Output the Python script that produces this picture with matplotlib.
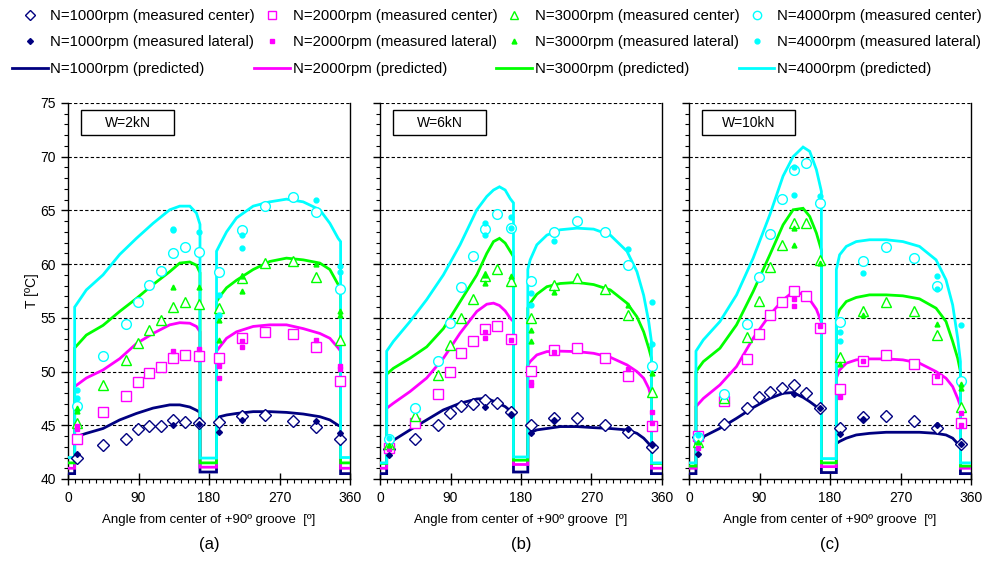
import numpy as np
import matplotlib
matplotlib.use("Agg")
import matplotlib.pyplot as plt
from matplotlib.lines import Line2D
from matplotlib.patches import Rectangle
from matplotlib.ticker import MultipleLocator

plt.rcParams['font.family'] = ['Liberation Sans', 'DejaVu Sans']

nan = np.nan
speeds = ["N=1000rpm", "N=2000rpm", "N=3000rpm", "N=4000rpm"]
colors = ["#000080", "#FF00FF", "#00FF00", "#00FFFF"]
center_markers = ["D", "s", "^", "o"]
lateral_markers = ["D", "s", "^", "o"]
panel_titles = ["W=2kN", "W=6kN", "W=10kN"]
panel_letters = ["(a)", "(b)", "(c)"]

# measurement angles (deg)
meas_angles = [12, 44.5, 74.5, 89, 104, 119, 134.5, 149, 167.5, 192.5, 222, 252, 287, 317, 347]
lat_angles = [12, 134.5, 167.5, 192.5, 222, 317, 347]

# ---------------- panel (a) W=2kN ----------------
center_a = [
    [42.0, 43.17, 43.73, 44.63, 44.94, 44.94, 45.5, 45.28, 45.25, 45.3, 45.9, 45.96, 45.4, 44.84, 43.73],
    [43.73, 46.2, 47.7, 49.0, 49.9, 50.4, 51.25, 51.55, 51.45, 51.3, 53.1, 53.7, 53.5, 52.27, 49.16],
    [45.25, 48.76, 51.1, 52.7, 53.9, 54.8, 56.05, 56.5, 56.3, 55.9, 58.7, 60.1, 60.25, 58.76, 52.9],
    [46.8, 51.46, 54.4, 56.46, 58.1, 59.4, 61.0, 61.6, 61.1, 59.3, 63.2, 65.4, 66.25, 64.85, 57.7],
]
lat1_a = [
    [42.3, 45.0, 45.1, 44.4, 45.5, 45.4, 44.25],
    [44.7, 51.9, 52.1, 50.55, 52.8, 52.95, 50.5],
    [46.3, 57.9, 57.9, 54.8, 58.85, 60.0, 55.6],
    [48.3, 63.2, 63.0, 57.1, 62.7, 66.0, 59.8],
]
lat2_a = [
    [nan, nan, nan, nan, nan, nan, nan],
    [44.9, nan, nan, 49.4, 52.3, nan, 50.2],
    [46.6, nan, nan, 52.95, 57.5, nan, 55.3],
    [47.5, 63.3, nan, 55.3, 61.5, nan, 59.3],
]
predL_ang_a = [8.5, 23.4, 44.7, 66.0, 87.3, 108.6, 129.9, 142.7, 155.5, 164.0, 168.5]
predR_ang_a = [189.6, 193.8, 202.4, 215.1, 236.4, 257.6, 278.9, 300.2, 321.5, 334.3, 344.9, 348.0]
predL_a = [
    [43.9, 44.25, 44.7, 45.5, 46.1, 46.6, 46.9, 46.9, 46.7, 46.4, 46.2],
    [48.6, 49.4, 50.15, 51.2, 52.6, 53.55, 54.35, 54.55, 54.5, 54.2, 53.7],
    [52.2, 53.4, 54.3, 55.6, 56.8, 58.1, 59.3, 60.1, 60.2, 59.9, 59.2],
    [56.0, 57.6, 59.0, 60.9, 62.4, 63.8, 65.06, 65.4, 65.4, 64.75, 63.7],
]
predR_a = [
    [45.65, 45.8, 45.96, 46.1, 46.27, 46.27, 46.2, 46.05, 45.8, 45.5, 45.0, 44.9],
    [51.9, 52.3, 53.1, 53.7, 54.2, 54.35, 54.35, 54.0, 53.55, 53.1, 52.2, 51.9],
    [56.5, 57.0, 57.8, 58.5, 59.5, 60.25, 60.56, 60.4, 60.1, 59.5, 58.1, 57.8],
    [61.2, 61.8, 63.0, 64.3, 65.4, 65.8, 66.05, 65.8, 65.06, 63.8, 62.4, 62.1],
]
low_edge_a = [40.5, 41.0, 41.5, 42.0]
low_mid_a = [40.65, 41.1, 41.5, 41.95]

# ---------------- panel (b) W=6kN ----------------
center_b = [
    [42.8, 43.73, 45.03, 46.1, 46.8, 46.96, 47.36, 47.05, 46.27, 45.03, 45.7, 45.65, 45.03, 44.4, 42.95],
    [42.9, 45.2, 47.9, 50.0, 51.7, 52.86, 53.94, 54.25, 53.0, 50.06, 52.0, 52.24, 51.3, 49.6, 44.94],
    [43.3, 45.87, 49.7, 52.5, 54.97, 56.77, 58.85, 59.57, 58.4, 55.0, 58.1, 58.75, 57.67, 55.28, 48.07],
    [43.7, 46.6, 51.0, 54.5, 57.86, 60.78, 63.26, 64.7, 63.35, 58.45, 63.0, 64.0, 62.95, 59.9, 50.56],
]
lat1_b = [
    [42.2, 46.7, 46.05, 44.25, 45.5, 44.7, 43.2],
    [42.8, 53.66, 52.95, 49.07, 51.8, 50.25, 46.27],
    [43.2, 58.2, 58.85, 53.9, 57.45, 56.2, 49.85],
    [43.85, 63.8, 64.4, 57.3, 62.2, 61.4, 56.5],
]
lat2_b = [
    [nan, nan, nan, nan, nan, nan, nan],
    [nan, 53.1, nan, 48.76, nan, nan, 45.2],
    [nan, 59.0, nan, 52.8, nan, nan, nan],
    [nan, 62.7, 63.4, 56.2, nan, nan, 52.6],
]
predL_ang_b = [8.5, 17.0, 38.3, 59.6, 80.9, 102.2, 123.6, 136.3, 144.9, 152.5, 159.8, 166.2, 170.4]
predR_ang_b = [188.7, 191.7, 200.2, 213.0, 230.1, 251.4, 272.7, 294.0, 315.3, 328.0, 336.6, 343.0, 346.5]
predL_b = [
    [43.3, 43.6, 44.57, 45.5, 46.43, 47.05, 47.45, 47.5, 47.25, 47.0, 46.74, 46.35, 46.1],
    [46.58, 47.05, 48.14, 49.4, 51.24, 53.57, 55.6, 56.27, 56.37, 56.15, 55.65, 54.97, 54.66],
    [49.75, 50.3, 51.24, 52.3, 54.0, 56.5, 59.0, 61.0, 62.1, 62.4, 61.96, 61.2, 60.7],
    [51.9, 52.8, 54.66, 56.7, 59.0, 61.8, 65.06, 66.3, 66.9, 67.2, 66.9, 66.1, 65.7],
]
predR_b = [
    [44.16, 44.3, 44.57, 44.7, 44.88, 44.88, 44.78, 44.7, 44.57, 44.25, 43.8, 43.3, 43.0],
    [50.6, 50.93, 51.55, 51.86, 51.9, 51.86, 51.7, 51.33, 50.62, 50.0, 49.38, 48.45, 47.5],
    [55.9, 56.37, 57.2, 57.9, 58.2, 58.3, 58.1, 57.6, 56.37, 55.1, 53.7, 52.2, 51.24],
    [59.5, 60.4, 61.8, 62.7, 63.2, 63.35, 63.26, 62.7, 61.2, 59.3, 57.1, 54.66, 52.8],
]
low_edge_b = [40.5, 41.0, 41.45, 41.5]
low_mid_b = [40.65, 41.35, 41.75, 42.05]

# ---------------- panel (c) W=10kN ----------------
center_c = [
    [43.94, 45.1, 46.58, 47.6, 48.07, 48.45, 48.76, 48.04, 46.58, 44.78, 45.8, 45.87, 45.4, 44.78, 43.3],
    [44.04, 47.27, 51.2, 53.48, 55.28, 56.46, 57.5, 57.05, 54.04, 48.39, 51.0, 51.55, 50.7, 49.28, 45.19],
    [43.48, 47.58, 53.2, 56.6, 59.7, 61.8, 63.8, 63.8, 60.34, 51.4, 55.65, 56.5, 55.6, 53.4, 46.74],
    [43.94, 47.9, 54.4, 58.76, 62.83, 66.05, 68.8, 69.4, 65.7, 54.6, 60.25, 61.55, 60.56, 57.98, 49.13],
]
lat1_c = [
    [42.3, 47.9, 46.58, 44.16, 45.6, 45.03, 43.3],
    [42.9, 56.77, 54.25, 47.67, 51.0, 49.6, 46.1],
    [43.48, 63.4, 60.1, 50.7, 55.28, 54.4, 48.8],
    [44.1, 69.0, 66.3, 53.66, 59.16, 58.9, 54.3],
]
lat2_c = [
    [nan, nan, nan, nan, nan, nan, nan],
    [nan, 56.15, nan, nan, nan, nan, 45.0],
    [nan, 61.74, nan, nan, nan, nan, 48.45],
    [nan, 66.4, nan, 52.86, nan, 57.67, nan],
]
predL_ang_c = [8.9, 18.3, 39.5, 60.7, 81.9, 103.2, 120.1, 132.9, 145.6, 154.1, 162.6, 169.0]
predR_ang_c = [188.1, 192.3, 200.8, 213.5, 230.5, 251.7, 273.0, 294.2, 315.4, 328.1, 336.6, 343.0, 346.5]
predL_c = [
    [43.48, 43.94, 44.72, 45.65, 46.65, 47.5, 47.98, 48.05, 47.6, 47.2, 46.74, 46.4],
    [46.74, 47.5, 48.76, 50.47, 53.1, 55.28, 56.68, 57.42, 57.2, 56.7, 55.8, 54.6],
    [50.0, 50.93, 52.17, 54.35, 57.45, 60.87, 63.66, 65.06, 65.2, 64.44, 62.9, 61.3],
    [51.9, 52.95, 54.66, 57.14, 60.56, 64.6, 68.2, 70.0, 70.9, 70.5, 68.8, 66.77],
]
predR_c = [
    [43.3, 43.5, 43.8, 44.1, 44.25, 44.35, 44.35, 44.35, 44.25, 44.1, 43.8, 43.3, 43.0],
    [49.38, 50.15, 50.78, 51.09, 51.18, 51.18, 51.09, 50.78, 50.0, 49.38, 48.6, 47.5, 46.8],
    [54.97, 55.75, 56.52, 56.9, 57.14, 57.14, 57.05, 56.77, 55.9, 54.66, 52.8, 51.24, 50.0],
    [59.5, 60.87, 61.65, 62.1, 62.27, 62.27, 62.1, 61.65, 60.4, 58.54, 56.2, 53.1, 50.93],
]
low_edge_c = [40.5, 41.0, 41.2, 41.5]
low_mid_c = [40.6, 41.15, 41.5, 41.9]

panels = [
    (center_a, lat1_a, lat2_a, predL_ang_a, predL_a, predR_ang_a, predR_a, low_edge_a, low_mid_a),
    (center_b, lat1_b, lat2_b, predL_ang_b, predL_b, predR_ang_b, predR_b, low_edge_b, low_mid_b),
    (center_c, lat1_c, lat2_c, predL_ang_c, predL_c, predR_ang_c, predR_c, low_edge_c, low_mid_c),
]

fig = plt.figure(figsize=(9.85, 5.75), dpi=100)
lefts = [68 / 985, 380 / 985, 689 / 985]
bottom = 96 / 575
height = 376 / 575
width = 282 / 985

for p, (cen, l1, l2, la, lv, ra, rv, le, lm) in enumerate(panels):
    ax = fig.add_axes([lefts[p], bottom, width, height])
    ax.set_xlim(0, 360)
    ax.set_ylim(40, 75)
    for gy in range(45, 80, 5):
        ax.axhline(gy, color="black", lw=0.8, ls=(0, (3, 2)), zorder=1)
    for k in range(4):
        xs = [0, la[0]] + list(la) + [la[-1], ra[0]] + list(ra) + [ra[-1], 360]
        ys = [le[k], le[k]] + list(lv[k]) + [lm[k], lm[k]] + list(rv[k]) + [le[k], le[k]]
        xs = np.array(xs, dtype=float)
        ys = np.array(ys, dtype=float)
        ax.plot(xs, ys, color=colors[k], lw=2.0, zorder=3 + k * 0.1, solid_joinstyle="miter")
    for k in range(4):
        ax.plot(meas_angles, cen[k], ls="none", marker=center_markers[k], mfc="white", mec=colors[k],
                mew=1.0, ms=7 if center_markers[k] != "D" else 6, zorder=5)
        ax.plot(lat_angles, l1[k], ls="none", marker=lateral_markers[k], color=colors[k],
                ms=3.5 if lateral_markers[k] != "D" else 3, zorder=6)
        ax.plot(lat_angles, l2[k], ls="none", marker=lateral_markers[k], color=colors[k],
                ms=3.5 if lateral_markers[k] != "D" else 3, zorder=6)
    ax.spines["top"].set_visible(False)
    for s in ["left", "bottom", "right"]:
        ax.spines[s].set_linewidth(1.0)
    ax.xaxis.set_major_locator(MultipleLocator(90))
    ax.xaxis.set_minor_locator(MultipleLocator(9))
    ax.yaxis.set_major_locator(MultipleLocator(5))
    ax.yaxis.set_minor_locator(MultipleLocator(1))
    ax.tick_params(axis="x", which="major", direction="inout", length=8, width=1, labelsize=10, pad=5)
    ax.tick_params(axis="x", which="minor", direction="out", length=3, width=0.8)
    ax.tick_params(axis="y", which="major", direction="out", length=5, width=1, labelsize=10)
    ax.tick_params(axis="y", which="minor", direction="out", length=3, width=0.8)
    if p > 0:
        ax.tick_params(axis="y", labelleft=False)
    else:
        ax.set_ylabel("T [ºC]", fontsize=10, labelpad=1)
    ax.set_xlabel("Angle from center of +90º groove  [º]", fontsize=9.5, labelpad=6)
    ax.add_patch(Rectangle((0.046, 0.915), 0.33, 0.066, transform=ax.transAxes, fill=False,
                           ec="black", lw=1.0, zorder=7))
    ax.text(0.211, 0.948, panel_titles[p], transform=ax.transAxes, ha="center", va="center",
            fontsize=10, zorder=8)
    fig.text(lefts[p] + width / 2, 1 - 545 / 575, panel_letters[p], ha="center", va="center", fontsize=12)

handles = []
labels = []
for k in range(4):
    handles.append(Line2D([], [], ls="none", marker=center_markers[k], mfc="white", mec=colors[k],
                          mew=1.0, ms=6 if center_markers[k] != "D" else 5))
    labels.append(speeds[k] + " (measured center)")
    handles.append(Line2D([], [], ls="none", marker=lateral_markers[k], color=colors[k],
                          ms=3.5 if lateral_markers[k] != "D" else 3))
    labels.append(speeds[k] + " (measured lateral)")
    handles.append(Line2D([], [], color=colors[k], lw=2.0))
    labels.append(speeds[k] + " (predicted)")

fig.legend(handles, labels, ncol=4, loc="upper left", bbox_to_anchor=(0.006, 0.995, 0.997, 0.0),
           mode="expand", frameon=False, fontsize=10.7, handlelength=2.4, handletextpad=0.2,
           labelspacing=0.85, borderaxespad=0.0)

fig.savefig("out.png", dpi=100)
